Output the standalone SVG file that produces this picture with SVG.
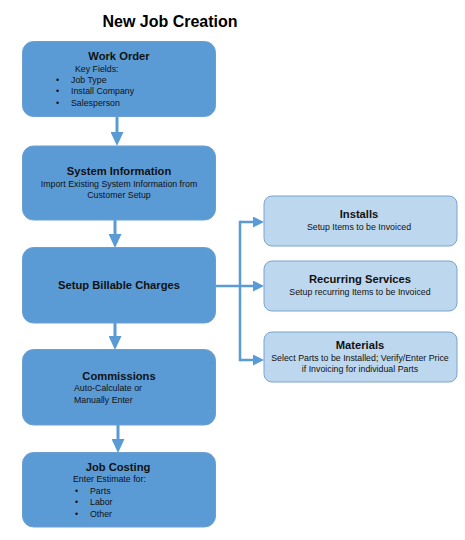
<svg xmlns="http://www.w3.org/2000/svg" width="465" height="540" viewBox="0 0 465 540">
<style>
.main{fill:#5B9BD5;stroke:#6c9fd0;stroke-width:1}
.sub{fill:#BDD7EE;stroke:#7aa3cf;stroke-width:1}
text{font-family:"Liberation Sans",Arial,sans-serif;fill:#111}
.t{font-weight:bold;font-size:11.2px;text-anchor:middle}
.b{font-size:8.8px}
.bc{font-size:8.8px;text-anchor:middle}
.title{font-weight:bold;font-size:16px;text-anchor:middle;fill:#000}
.ca{stroke:#5B9BD5;stroke-width:3;fill:none}
.cr{stroke:#5B9BD5;stroke-width:2.5;fill:none}
</style>
<defs>
<marker id="ah" markerUnits="userSpaceOnUse" markerWidth="14" markerHeight="13" refX="0" refY="6.5" orient="auto">
<path d="M0,0 L14,6.5 L0,13 z" fill="#5B9BD5"/>
</marker>
<marker id="ahs" markerUnits="userSpaceOnUse" markerWidth="11" markerHeight="11" refX="0" refY="5.5" orient="auto">
<path d="M0,0 L11,5.5 L0,11 z" fill="#5B9BD5"/>
</marker>
</defs>
<rect width="465" height="540" fill="#fff"/>
<text class="title" x="170" y="27">New Job Creation</text>

<g id="connectors">
<line class="ca" x1="117" y1="117" x2="117" y2="132" marker-end="url(#ah)"/>
<line class="ca" x1="115" y1="220" x2="115" y2="234" marker-end="url(#ah)"/>
<line class="ca" x1="115" y1="323" x2="115" y2="336" marker-end="url(#ah)"/>
<line class="ca" x1="118" y1="425" x2="118" y2="439" marker-end="url(#ah)"/>
<polyline class="cr" points="216,286 240,286"/>
<line class="cr" x1="240" y1="220.75" x2="240" y2="361.25"/>
<line class="cr" x1="240" y1="222" x2="253" y2="222" marker-end="url(#ahs)"/>
<line class="cr" x1="240" y1="286" x2="253" y2="286" marker-end="url(#ahs)"/>
<line class="cr" x1="240" y1="360" x2="253" y2="360" marker-end="url(#ahs)"/>
</g>

<g id="work-order">
<rect class="main" x="22.5" y="41.5" width="193" height="75" rx="11"/>
<text class="t" x="119" y="60">Work Order</text>
<text class="b" x="75" y="72">Key Fields:</text>
<text class="b" x="56" y="83">•</text><text class="b" x="71" y="83">Job Type</text>
<text class="b" x="56" y="94">•</text><text class="b" x="71" y="94">Install Company</text>
<text class="b" x="56" y="106">•</text><text class="b" x="71" y="106">Salesperson</text>
</g>

<g id="system-information">
<rect class="main" x="22.5" y="146" width="193" height="74" rx="11"/>
<text class="t" x="119" y="175">System Information</text>
<text class="bc" x="119" y="187">Import Existing System Information from</text>
<text class="bc" x="119" y="198">Customer Setup</text>
</g>

<g id="setup-billable-charges">
<rect class="main" x="22.5" y="247.5" width="193" height="75.5" rx="11"/>
<text class="t" x="119" y="289">Setup Billable Charges</text>
</g>

<g id="commissions">
<rect class="main" x="22.5" y="349.5" width="193" height="75.5" rx="11"/>
<text class="t" x="119" y="380">Commissions</text>
<text class="b" x="74" y="391">Auto-Calculate or</text>
<text class="b" x="74" y="403">Manually Enter</text>
</g>

<g id="job-costing">
<rect class="main" x="22.5" y="452.5" width="193" height="74.5" rx="11"/>
<text class="t" x="118" y="471">Job Costing</text>
<text class="b" x="73" y="482">Enter Estimate for:</text>
<text class="b" x="75" y="494">•</text><text class="b" x="90" y="494">Parts</text>
<text class="b" x="75" y="505">•</text><text class="b" x="90" y="505">Labor</text>
<text class="b" x="75" y="517">•</text><text class="b" x="90" y="517">Other</text>
</g>

<g id="installs">
<rect class="sub" x="264" y="196" width="193" height="50" rx="8"/>
<text class="t" x="359" y="218">Installs</text>
<text class="bc" x="359" y="230">Setup Items to be Invoiced</text>
</g>

<g id="recurring-services">
<rect class="sub" x="264" y="261" width="193" height="50" rx="8"/>
<text class="t" x="360" y="283">Recurring Services</text>
<text class="bc" x="360" y="295">Setup recurring Items to be Invoiced</text>
</g>

<g id="materials">
<rect class="sub" x="264" y="332" width="193" height="50" rx="8"/>
<text class="t" x="360" y="349">Materials</text>
<text class="bc" x="360" y="361">Select Parts to be Installed; Verify/Enter Price</text>
<text class="bc" x="360" y="372">if Invoicing for individual Parts</text>
</g>
</svg>
